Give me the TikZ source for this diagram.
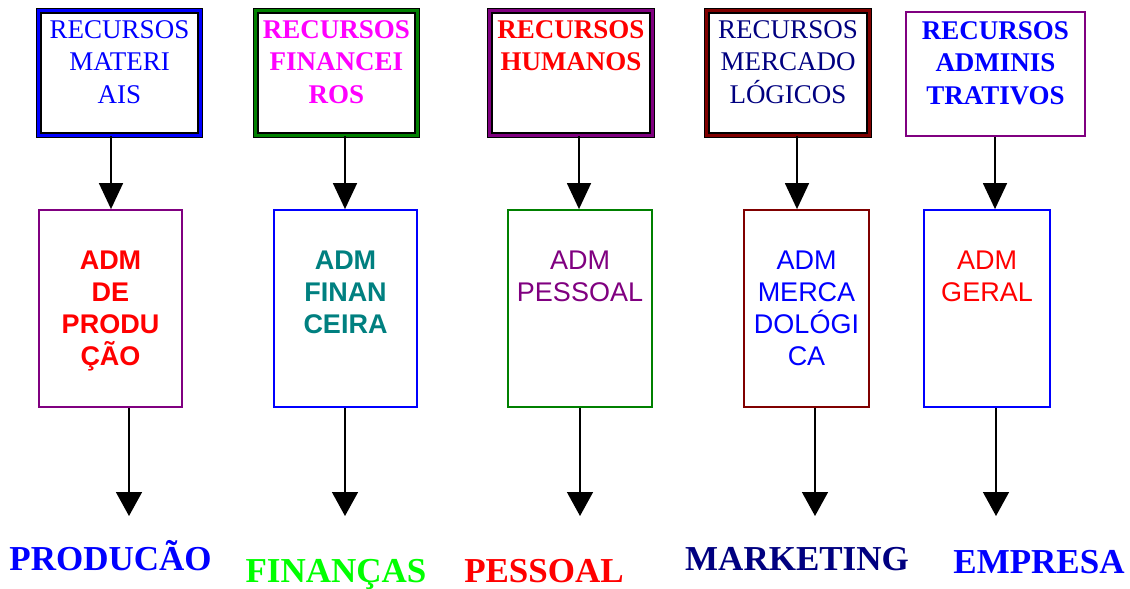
\documentclass[tikz,border=0pt]{standalone}
\usepackage{fontspec}
\setmainfont{Liberation Serif}
\setsansfont{Liberation Sans}
\usetikzlibrary{arrows.meta}
\definecolor{navyc}{RGB}{0,0,128}
\definecolor{tealc}{RGB}{0,128,128}
\definecolor{purplec}{RGB}{128,0,128}
\definecolor{greenc}{RGB}{0,128,0}
\definecolor{darkredc}{RGB}{128,0,0}
\definecolor{magentac}{RGB}{255,0,255}
\definecolor{brightgreen}{RGB}{0,255,0}
\definecolor{bluec}{RGB}{0,0,255}
\definecolor{redc}{RGB}{255,0,0}
\begin{document}
\begin{tikzpicture}[x=1pt,y=-1pt,
  resbox/.style={draw=black, line width=1.3pt, double=#1, double distance=3pt,
    inner sep=0, minimum height=124.4pt, fill=white},
  plainbox/.style={draw=#1, line width=1.8pt, inner sep=0, fill=white},
  topreg/.style={font=\fontsize{27}{32.5}\selectfont, align=center, inner sep=0, anchor=north},
  topbold/.style={font=\fontsize{27}{32.5}\selectfont\bfseries, align=center, inner sep=0, anchor=north},
  midreg/.style={font=\sffamily\fontsize{27}{32}\selectfont, align=center, inner sep=0, anchor=north},
  midbold/.style={font=\sffamily\fontsize{27}{32}\selectfont\bfseries, align=center, inner sep=0, anchor=north},
  botlbl/.style={font=\fontsize{35}{40}\selectfont\bfseries, anchor=base, inner sep=0},
  downarr/.style={draw=black, line width=1.5pt, -{Triangle[width=24pt,length=26pt]}},
  outarr/.style={draw=black, line width=1.5pt, -{Triangle[width=26pt,length=24pt]}}
]
\useasboundingbox (0,0) rectangle (1130,589);

% resource boxes (top row)
\node[resbox=bluec, minimum width=161.4pt] (r1) at (119.5,73) {};
\node[resbox=greenc, minimum width=161.4pt] (r2) at (336.5,73) {};
\node[resbox=purplec, minimum width=162.4pt] (r3) at (571,73) {};
\node[resbox=darkredc, minimum width=162.4pt] (r4) at (788,73) {};
\node[plainbox=purplec, minimum width=179pt, minimum height=124pt] (r5) at (995.5,74) {};

\node[topreg, text=bluec] (r1t) at (119.5,20) {RECURSOS\\MATERI\\AIS};
\node[topbold, text=magentac] (r2t) at (336.5,20) {RECURSOS\\FINANCEI\\ROS};
\node[topbold, text=redc] (r3t) at (571,20) {RECURSOS\\HUMANOS};
\node[topreg, text=navyc] (r4t) at (788,20) {RECURSOS\\MERCADO\\LÓGICOS};
\node[topbold, text=bluec] (r5t) at (995.5,21) {RECURSOS\\ADMINIS\\TRATIVOS};

% administration boxes (middle row)
\node[plainbox=purplec, minimum width=143pt, minimum height=197pt] (m1) at (110.5,308.5) {};
\node[plainbox=bluec, minimum width=143pt, minimum height=197pt] (m2) at (345.5,308.5) {};
\node[plainbox=greenc, minimum width=144pt, minimum height=197pt] (m3) at (580,308.5) {};
\node[plainbox=darkredc, minimum width=125pt, minimum height=197pt] (m4) at (806.5,308.5) {};
\node[plainbox=bluec, minimum width=126pt, minimum height=197pt] (m5) at (987,308.5) {};

\node[midbold, text=redc] (m1t) at (110.5,250.7) {ADM\\DE\\PRODU\\ÇÃO};
\node[midbold, text=tealc] (m2t) at (345.5,250.7) {ADM\\FINAN\\CEIRA};
\node[midreg, text=purplec] (m3t) at (580,250.7) {ADM\\PESSOAL};
\node[midreg, text=bluec] (m4t) at (806.5,250.7) {ADM\\MERCA\\DOLÓGI\\CA};
\node[midreg, text=redc] (m5t) at (987,250.7) {ADM\\GERAL};

% x positions of the connectors
\coordinate (a1) at (111,0);
\coordinate (a2) at (345,0);
\coordinate (a3) at (579,0);
\coordinate (a4) at (797,0);
\coordinate (a5) at (995,0);
\coordinate (e1) at (129,516);
\coordinate (e2) at (345,516);
\coordinate (e3) at (580,516);
\coordinate (e4) at (815,516);
\coordinate (e5) at (996,516);

\draw[downarr] (r1.south -| a1) -- (m1.north -| a1);
\draw[downarr] (r2.south -| a2) -- (m2.north -| a2);
\draw[downarr] (r3.south -| a3) -- (m3.north -| a3);
\draw[downarr] (r4.south -| a4) -- (m4.north -| a4);
\draw[downarr] (r5.south -| a5) -- (m5.north -| a5);

\draw[outarr] (m1.south -| e1) -- (e1);
\draw[outarr] (m2.south -| e2) -- (e2);
\draw[outarr] (m3.south -| e3) -- (e3);
\draw[outarr] (m4.south -| e4) -- (e4);
\draw[outarr] (m5.south -| e5) -- (e5);

% area labels (bottom row)
\node[botlbl, text=bluec] (l1) at (110.5,570) {PRODUCÃO};
\node[botlbl, text=brightgreen] (l2) at (336,582) {FINANÇAS};
\node[botlbl, text=redc] (l3) at (544,582) {PESSOAL};
\node[botlbl, text=navyc] (l4) at (797,570) {MARKETING};
\node[botlbl, text=bluec] (l5) at (1039,573) {EMPRESA};
\end{tikzpicture}
\end{document}
